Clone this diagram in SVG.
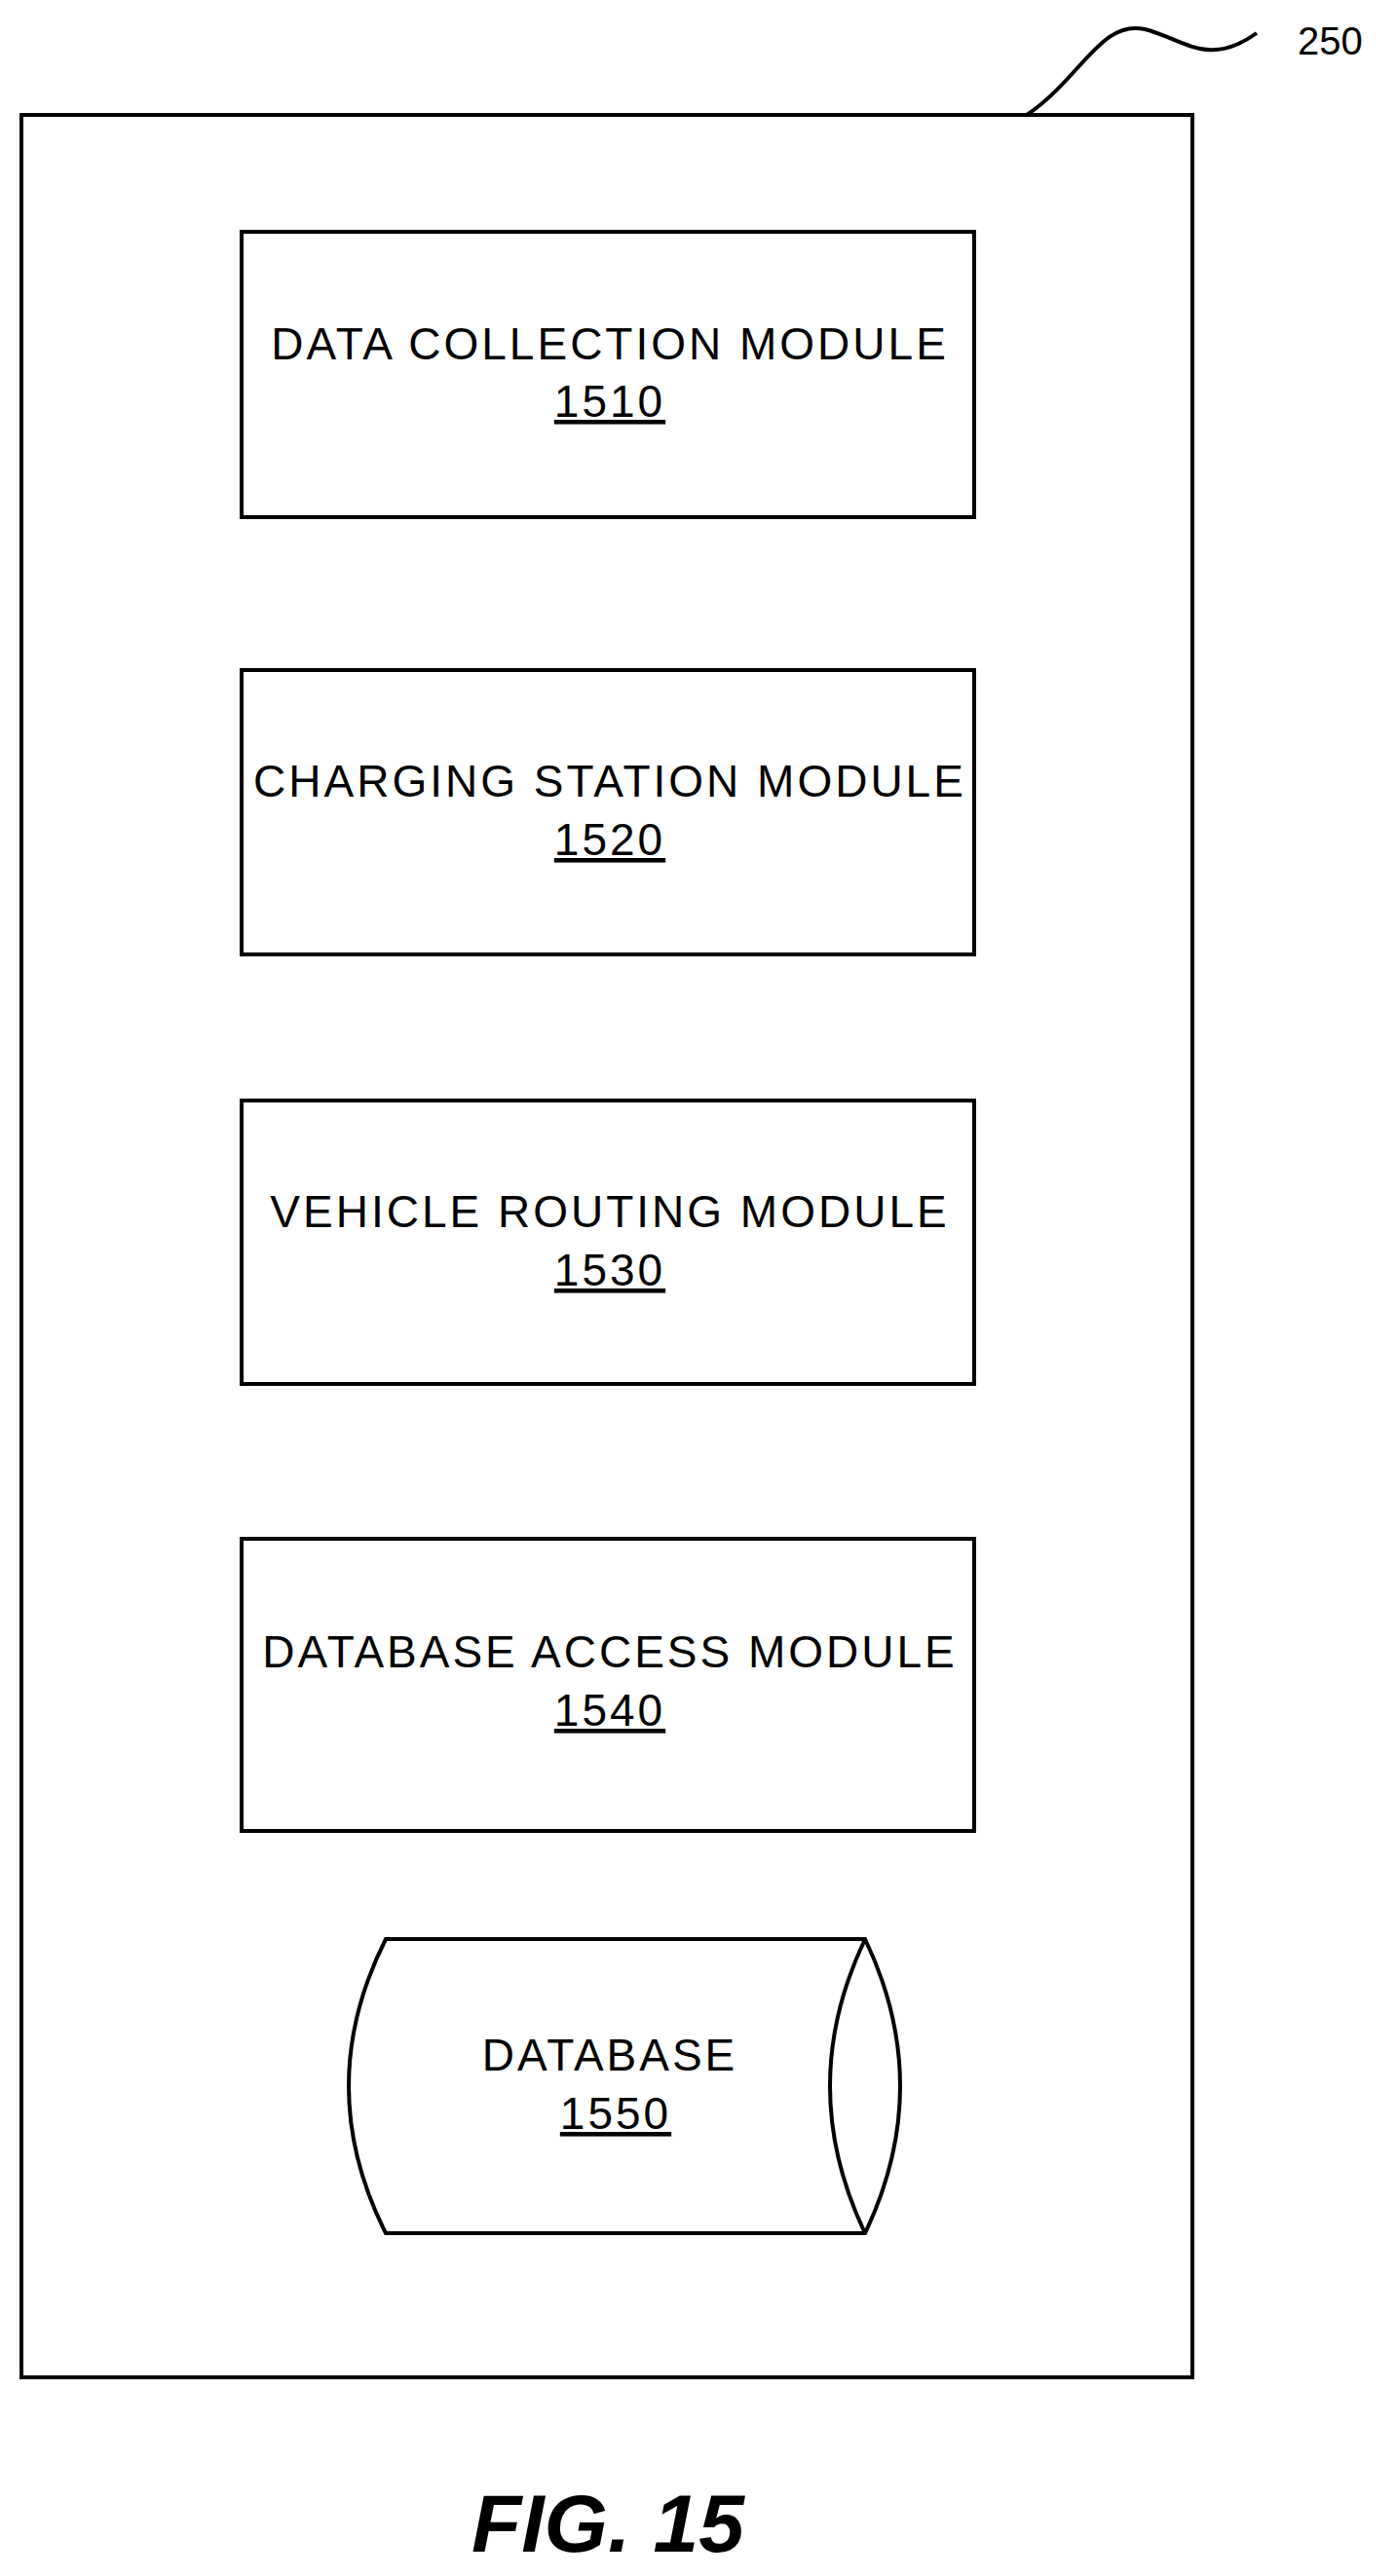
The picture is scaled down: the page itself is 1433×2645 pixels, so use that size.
<svg xmlns="http://www.w3.org/2000/svg" width="1433" height="2645" viewBox="0 0 1433 2645">
<style>
.b{fill:#fff;stroke:#000;stroke-width:4}
.t{font-family:"Liberation Sans",Arial,sans-serif;font-size:46px;fill:#000;text-anchor:middle;letter-spacing:3px}
.n{text-decoration:underline}
</style>
<rect width="1433" height="2645" fill="#fff"/>
<g id="container250">
<rect class="b" x="22" y="118" width="1202" height="2323"/>
<path d="M1054,118 C1110,80 1130,20 1175,30 C1215,40 1240,70 1290,34" fill="none" stroke="#000" stroke-width="4"/>
<text x="1332" y="56" style="font-family:'Liberation Sans',Arial,sans-serif;font-size:40px">250</text>
</g>
<g id="n1510"><rect class="b" x="248" y="238" width="752" height="293"/>
<text class="t" x="626" y="369">DATA COLLECTION MODULE</text><text class="t n" x="626" y="428">1510</text></g>
<g id="n1520"><rect class="b" x="248" y="688" width="752" height="292"/>
<text class="t" x="626" y="818">CHARGING STATION MODULE</text><text class="t n" x="626" y="878">1520</text></g>
<g id="n1530"><rect class="b" x="248" y="1130" width="752" height="291"/>
<text class="t" x="626" y="1260">VEHICLE ROUTING MODULE</text><text class="t n" x="626" y="1320">1530</text></g>
<g id="n1540"><rect class="b" x="248" y="1580" width="752" height="300"/>
<text class="t" x="626" y="1712">DATABASE ACCESS MODULE</text><text class="t n" x="626" y="1772">1540</text></g>
<g id="n1550">
<path class="b" d="M396,1991 L888,1991 Q960,2142 888,2293 L396,2293 Q320,2142 396,1991 Z"/>
<path d="M888,1991 Q816,2142 888,2293" fill="none" stroke="#000" stroke-width="4"/>
<text class="t" x="626" y="2126">DATABASE</text><text class="t n" x="632" y="2186">1550</text></g>
<g id="connectors"></g>
<text x="624" y="2620" style="font-family:'Liberation Sans',Arial,sans-serif;font-size:84px;font-weight:bold;font-style:italic;text-anchor:middle">FIG. 15</text>
</svg>
